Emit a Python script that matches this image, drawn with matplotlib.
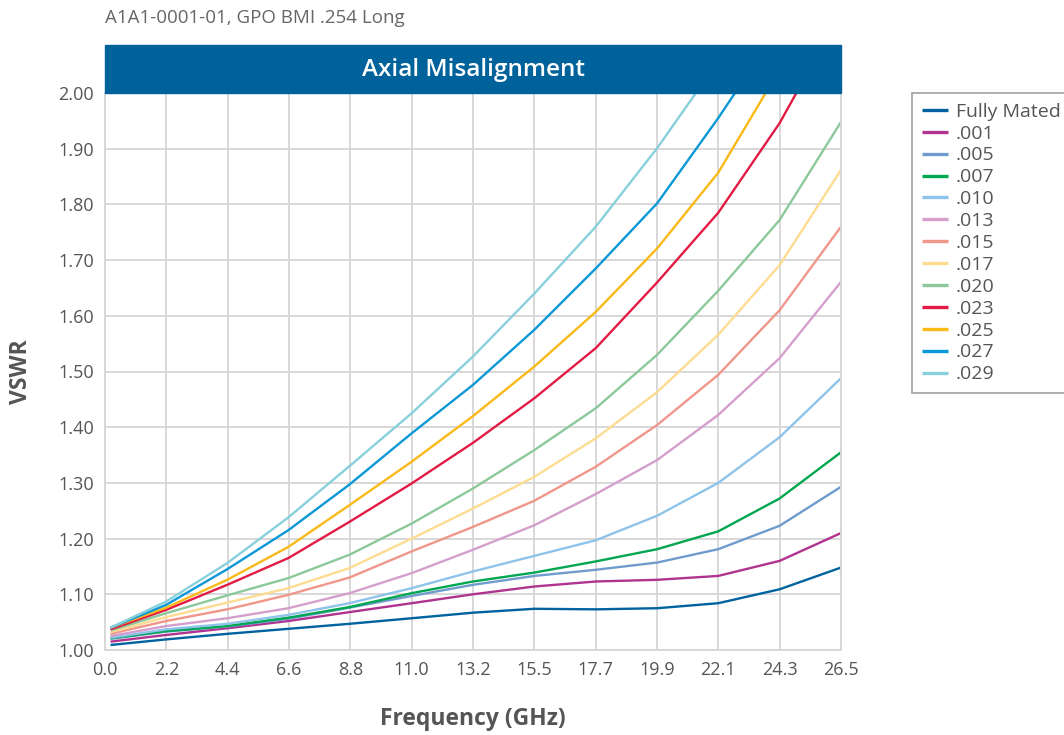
import matplotlib
matplotlib.use("Agg")
import matplotlib.pyplot as plt
from matplotlib.patches import Rectangle

# frequency points (GHz) the curves were read at
freq = [0.2, 2.2, 4.4, 6.6, 8.8, 11.04, 13.25, 15.46, 17.67, 19.88, 22.08, 24.29, 26.5]
tick_pos = [0.0, 2.208, 4.417, 6.625, 8.833, 11.04, 13.25, 15.46, 17.67, 19.88, 22.08, 24.29, 26.5]
tick_labels = ["0.0", "2.2", "4.4", "6.6", "8.8", "11.0", "13.2", "15.5", "17.7", "19.9", "22.1", "24.3", "26.5"]

labels = ["Fully Mated", ".001", ".005", ".007", ".010", ".013", ".015",
          ".017", ".020", ".023", ".025", ".027", ".029"]
colors = ["#0063a0", "#b0338f", "#6f9ccd", "#00a650", "#8ec3ea", "#d49fcc", "#f0968a",
          "#fddc92", "#8cc99a", "#e31b44", "#fbb917", "#0a98d6", "#88d0dc"]

fully_mated = [1.009, 1.019, 1.029, 1.038, 1.047, 1.057, 1.067, 1.074, 1.073, 1.075, 1.084, 1.109, 1.148]
mis_001 = [1.015, 1.027, 1.039, 1.052, 1.068, 1.084, 1.100, 1.114, 1.123, 1.126, 1.133, 1.160, 1.210]
mis_005 = [1.020, 1.033, 1.042, 1.056, 1.076, 1.097, 1.117, 1.133, 1.144, 1.157, 1.181, 1.223, 1.293]
mis_007 = [1.021, 1.034, 1.043, 1.058, 1.077, 1.102, 1.123, 1.139, 1.159, 1.181, 1.213, 1.272, 1.355]
mis_010 = [1.022, 1.037, 1.047, 1.063, 1.084, 1.111, 1.141, 1.169, 1.197, 1.241, 1.300, 1.382, 1.488]
mis_013 = [1.025, 1.043, 1.057, 1.075, 1.102, 1.138, 1.180, 1.224, 1.280, 1.341, 1.422, 1.524, 1.661]
mis_015 = [1.029, 1.052, 1.073, 1.099, 1.130, 1.177, 1.221, 1.268, 1.329, 1.404, 1.494, 1.610, 1.760]
mis_017 = [1.032, 1.059, 1.085, 1.111, 1.147, 1.200, 1.254, 1.311, 1.380, 1.463, 1.566, 1.691, 1.862]
mis_020 = [1.035, 1.066, 1.098, 1.129, 1.171, 1.227, 1.290, 1.359, 1.434, 1.530, 1.645, 1.772, 1.948]
mis_023 = [1.037, 1.072, 1.117, 1.165, 1.230, 1.299, 1.372, 1.452, 1.542, 1.660, 1.785, 1.946, 2.144]
mis_025 = [1.040, 1.076, 1.126, 1.185, 1.260, 1.338, 1.420, 1.509, 1.607, 1.721, 1.857, 2.042]
mis_027 = [1.040, 1.081, 1.145, 1.215, 1.297, 1.389, 1.476, 1.575, 1.685, 1.802, 1.955, 2.120]
mis_029 = [1.040, 1.087, 1.156, 1.238, 1.330, 1.425, 1.527, 1.640, 1.760, 1.901, 2.057]

series = [fully_mated, mis_001, mis_005, mis_007, mis_010, mis_013, mis_015,
          mis_017, mis_020, mis_023, mis_025, mis_027, mis_029]

plt.rcParams['font.family'] = ['Open Sans', 'DejaVu Sans']
grey = "#555555"

fig = plt.figure(figsize=(10.64, 7.35), dpi=100)
ax = fig.add_axes([105/1064, 1-650/735, 736/1064, 557/735])

for vals, lab, col in zip(series, labels, colors):
    ax.plot(freq[:len(vals)], vals, color=col, lw=1.7, label=lab, solid_capstyle='butt')

ax.set_xlim(0, 26.5)
ax.set_ylim(1.0, 2.0)
ax.set_xticks(tick_pos)
ax.set_xticklabels(tick_labels)
yt = [1.0 + 0.1*i for i in range(11)]
ax.set_yticks(yt)
ax.set_yticklabels(["%.2f" % v for v in yt])
ax.tick_params(length=0, labelsize=13, colors=grey, pad=8)
ax.grid(True, color="#d6d6d6", lw=1.3)
ax.set_axisbelow(True)
for s in ax.spines.values():
    s.set_color("#d6d6d6")
    s.set_linewidth(1.3)

ax.set_xlabel("Frequency (GHz)", fontsize=16.5, fontweight='bold', color=grey, labelpad=20)
ax.set_ylabel("VSWR", fontsize=16.5, fontweight='bold', color=grey, labelpad=18)

# title banner
fig.patches.append(Rectangle((105/1064, 1-93/735), 736/1064, 48/735,
                             transform=fig.transFigure, color="#00629b", zorder=0))
fig.text(473/1064, 1-70/735, "Axial Misalignment", color="white", fontsize=17.5,
         fontweight='semibold', ha='center', va='center')
fig.text(105/1064, 1-18/735, "A1A1-0001-01, GPO BMI .254 Long", color="#666666",
         fontsize=13.5, ha='left', va='center')

leg = ax.legend(loc='upper left', bbox_to_anchor=(912/1064, 1-93/735),
                bbox_transform=fig.transFigure, fontsize=14, frameon=True,
                fancybox=False, edgecolor="#888888", handlelength=1.35,
                handletextpad=0.4, labelspacing=0.2, borderpad=0.5, borderaxespad=0)
leg.get_frame().set_linewidth(1.2)
for t in leg.get_texts():
    t.set_color(grey)
for h in leg.get_lines():
    h.set_linewidth(2.4)

fig.savefig("out.png", dpi=100)
